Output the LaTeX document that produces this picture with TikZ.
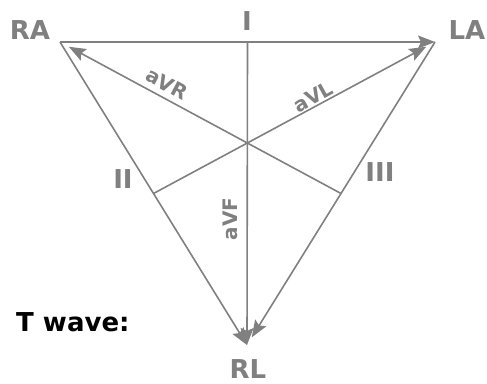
\documentclass[tikz,border=0pt]{standalone}
\usepackage{fontspec}
\setmainfont{DejaVu Sans}
\usetikzlibrary{arrows.meta,calc}
\definecolor{leadgray}{RGB}{128,128,128}

\begin{document}
\begin{tikzpicture}[x=1pt, y=-1pt,
    lead/.style={draw=leadgray, line width=1.6pt, -{Stealth[length=17pt,width=13pt,inset=3pt]}},
    limb/.style={font=\fontsize{26}{26}\selectfont\bfseries, text=leadgray, inner sep=0pt},
    augm/.style={font=\fontsize{20}{20}\selectfont\bfseries, text=leadgray, inner sep=0pt}]
  % Triangulo de Einthoven: os tres vertices sao os electrodos, os lados sao I, II e III, e as
  % derivacoes aumentadas partem do meio do lado oposto. A figura esta em pixeis (y para baixo).
  \useasboundingbox (0,0) rectangle (487,383);
  \coordinate (ra) at (60,42);
  \coordinate (la) at (435,42);
  \coordinate (rl) at (247,345);
  \coordinate (mI) at ($(ra)!0.5!(la)$);
  \coordinate (mII) at ($(ra)!0.5!(rl)$);
  \coordinate (mIII) at ($(la)!0.5!(rl)$);
  \draw[lead] (ra) -- (la);
  \draw[lead] (ra) -- (rl);
  \draw[lead, shorten >=9pt] (la) -- (rl);
  \draw[lead, shorten >=10pt] (mIII) -- (ra);
  \draw[lead, shorten >=10pt] (mII) -- (la);
  \draw[lead] (mI) -- (rl);
  \node[limb] (raL) at (30,30) {RA};
  \node[limb] (laL) at (467,30) {LA};
  \node[limb] (rlL) at (248,369) {RL};
  \node[limb] (leadI) at (247,21) {I};
  \node[limb] (leadII) at (123,179) {II};
  \node[limb] (leadIII) at (380,172) {III};
  \node[augm, rotate=-28] (aVR) at (167,84) {aVR};
  \node[augm, rotate=29] (aVL) at (313,97) {aVL};
  \node[augm, rotate=90] (aVF) at (230,219) {aVF};
  \node[limb, text=black, anchor=west] (twave) at (16,322) {T wave:};
\end{tikzpicture}
\end{document}
